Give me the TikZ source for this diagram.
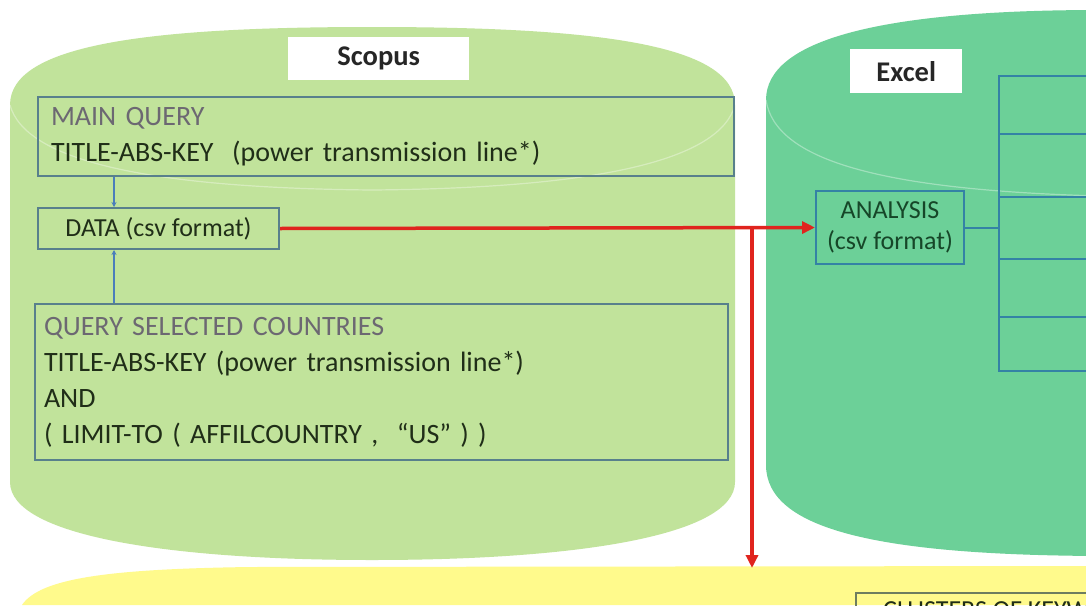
\documentclass[tikz,border=0pt]{standalone}
\usepackage{fontspec}
\setmainfont{Carlito}
\usetikzlibrary{arrows.meta}
\definecolor{scopusg}{RGB}{193,227,155}
\definecolor{excelg}{RGB}{108,208,152}
\definecolor{yelg}{RGB}{255,250,140}
\definecolor{sline}{RGB}{88,128,140}
\definecolor{eline}{RGB}{52,130,165}
\definecolor{cline}{RGB}{110,125,95}
\definecolor{txt}{RGB}{32,46,24}
\definecolor{etxt}{RGB}{22,70,40}
\definecolor{gtxt}{RGB}{108,104,114}
\definecolor{redl}{RGB}{224,36,30}
\definecolor{bluec}{RGB}{74,126,187}
\begin{document}
\begin{tikzpicture}[x=1pt,y=-1pt,
  sbox/.style={draw=sline, line width=2pt, rectangle, anchor=north west, inner ysep=0pt,
    text=txt, font=\fontsize{28}{36}\selectfont, align=left},
  ebox/.style={draw=eline, line width=2pt, rectangle, anchor=north west, inner sep=0pt,
    text=etxt, font=\fontsize{26}{31}\selectfont, align=center},
  lbl/.style={fill=white, rectangle, anchor=north west, inner sep=0pt,
    font=\bfseries\fontsize{28.5}{32}\selectfont, text=black!85},
  conn/.style={draw=bluec, line width=1.3pt, -{Stealth[length=5pt,width=5pt]}},
  redarrow/.style={draw=redl, line width=3.5pt, -{Triangle[length=13pt,width=12pt]}},
  lip/.style={draw=white, opacity=0.35, line width=1.2pt}]
\useasboundingbox (0,0) rectangle (1086,605);
\clip (0,0) rectangle (1086,605);
\fill[white] (0,0) rectangle (1086,605);
% yellow cylinder top
\fill[yelg] (22,605) .. controls (40,578) and (110,569) .. (250,567) -- (1086,566) -- (1086,605) -- cycle;
% Scopus cylinder
\fill[scopusg] (10,105) .. controls (10,45) and (145,27) .. (372,27)
  .. controls (600,27) and (735,45) .. (735,105) -- (735,482)
  .. controls (735,535) and (580,560) .. (372,560)
  .. controls (165,560) and (10,535) .. (10,482) -- cycle;
\draw[lip] (735,105) .. controls (720,160) and (600,188) .. (372,190)
  .. controls (145,188) and (25,160) .. (10,105);
% Excel cylinder
\fill[excelg] (766,100) .. controls (766,40) and (880,10) .. (1100,10) -- (1100,556)
  .. controls (880,555) and (766,530) .. (766,465) -- cycle;
\draw[lip] (766,100) .. controls (775,160) and (880,190) .. (1100,196);
% labels
\node[lbl, minimum width=181pt, minimum height=43pt] (scl) at (288,37) {Scopus};
\node[lbl, minimum width=112pt, minimum height=44pt] (exl) at (850,49) {Excel};
% Scopus boxes
\node[sbox, text width=670pt, inner xsep=13pt, minimum height=79pt] (main) at (37,96)
  {\textcolor{gtxt}{MAIN QUERY}\\TITLE-ABS-KEY\ \ (power transmission line*)};
\node[sbox, minimum width=241pt, minimum height=41pt, inner xsep=0pt, align=center,
  font=\fontsize{26}{28}\selectfont] (data) at (37,207) {DATA (csv format)};
\node[sbox, text width=675pt, inner xsep=9pt, minimum height=156pt] (query) at (34,303)
  {\textcolor{gtxt}{QUERY SELECTED COUNTRIES}\\TITLE-ABS-KEY (power transmission line*)\\AND\\( LIMIT-TO ( AFFILCOUNTRY ,\ \ “US” ) )};
\coordinate (cx) at (114,0);
\draw[conn] (main.south -| cx) -- (data.north -| cx);
\draw[conn] (query.north -| cx) -- (data.south -| cx);
% Excel boxes
\node[ebox, minimum width=148pt, minimum height=73pt] (an) at (815,190) {ANALYSIS\\(csv format)};
\node[ebox, minimum width=140pt, minimum height=58pt] (e1) at (998,75) {};
\node[ebox, minimum width=140pt, minimum height=63pt] (e2) at (998,133) {};
\node[ebox, minimum width=140pt, minimum height=62pt] (e3) at (998,196) {};
\node[ebox, minimum width=140pt, minimum height=58pt] (e4) at (998,258) {};
\node[ebox, minimum width=140pt, minimum height=54pt] (e5) at (998,316) {};
\draw[draw=eline, line width=2pt] (an.east) -- (an.east -| e3.west);
% bottom box (cut off)
\node[draw=cline, line width=2pt, rectangle, anchor=north west, inner sep=0pt,
  minimum width=300pt, minimum height=60pt] (cl) at (855,592) {};
\node[anchor=north west, inner sep=0pt, text=txt, font=\fontsize{26}{30}\selectfont] (clt) at (883,601) {CLUSTERS OF KEYWORDS};
% red arrows
\coordinate (split) at (752,228);
\coordinate (yel) at (752,568);
\draw[redarrow] (data.east) -- (an.west);
\draw[redarrow] (split) -- (yel);
\end{tikzpicture}
\end{document}
